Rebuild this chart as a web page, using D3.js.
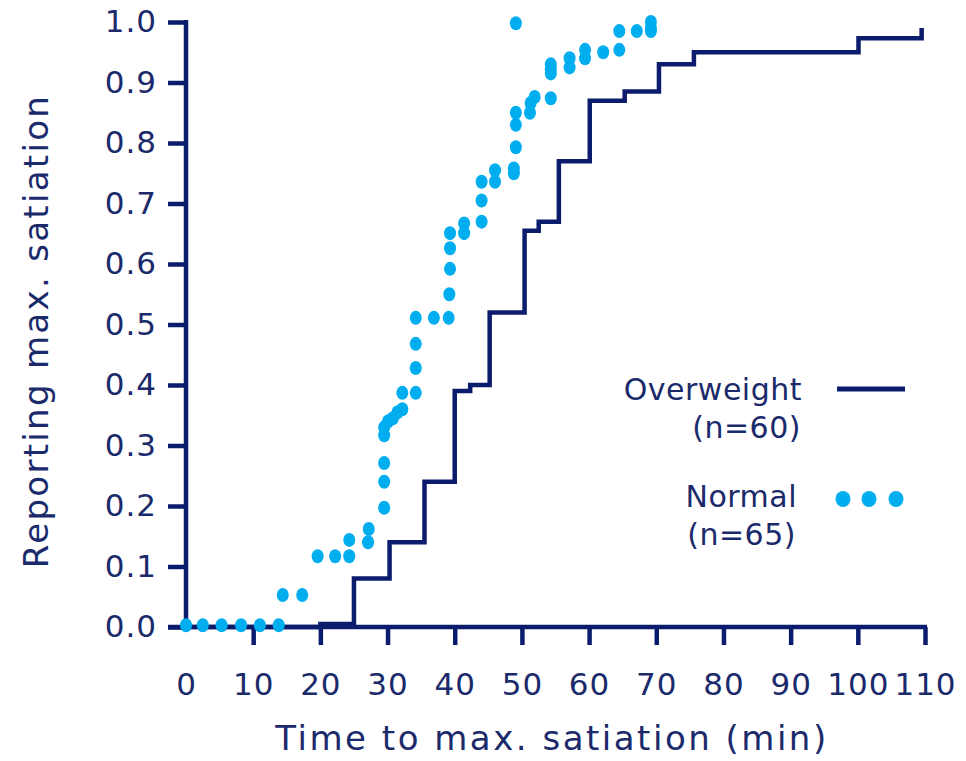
<!DOCTYPE html>
<html>
<head>
<meta charset="utf-8">
<script src="https://cdn.jsdelivr.net/npm/d3@7"></script>
<style>
	body { margin: 0; background: #fff; }
	text { font-family: "DejaVu Sans", Verdana, sans-serif; fill: #1b2a6b; }
</style>
</head>
<body>
<script>
(function () {
	"use strict";

	var w = 966;
	var h = 761;

	// overweight (n=60): step curve
	var owTime = [0, 20, 25, 30.3, 35.5, 40, 42.3, 45.2, 50.4, 52.5, 55.5, 60.1, 65.3, 70.4, 75.6, 100.1, 109.5];
	var owProp = [0, 0.005, 0.08, 0.14, 0.24, 0.39, 0.40, 0.52, 0.655, 0.67, 0.77, 0.87, 0.885, 0.93, 0.95, 0.973, 0.99];

	// normal (n=65): dots
	var nmTime = [0, 2.5, 5.3, 8.2, 11, 13.8, 14.4, 17.3, 19.6, 22.2, 24.3, 24.3, 27.1, 27.2,
		29.5, 29.5, 29.5, 29.5, 29.5, 30.1, 30.8, 31.5, 32.2, 32.2, 34.2, 34.2, 34.2, 34.2, 36.9,
		39.1, 39.2, 39.3, 39.3, 39.3, 41.4, 41.4, 44, 44, 44, 46, 46, 48.8, 48.8,
		49.1, 49.1, 49.1, 49.1, 51.2, 51.3, 51.9, 54.3, 54.3, 54.3, 54.3, 57.1, 57.1,
		59.4, 59.4, 62.1, 64.5, 64.5, 67.1, 69.2, 69.2, 69.2];
	var nmProp = [0.003, 0.003, 0.003, 0.003, 0.003, 0.003, 0.053, 0.053, 0.117, 0.117, 0.117, 0.144, 0.14, 0.162,
		0.197, 0.24, 0.271, 0.317, 0.33, 0.34, 0.345, 0.355, 0.36, 0.387, 0.387, 0.428, 0.468, 0.511, 0.511,
		0.511, 0.55, 0.592, 0.626, 0.651, 0.651, 0.667, 0.67, 0.705, 0.736, 0.736, 0.755, 0.75, 0.758,
		0.793, 0.83, 0.85, 0.998, 0.85, 0.866, 0.876, 0.874, 0.915, 0.922, 0.93, 0.925, 0.94,
		0.94, 0.954, 0.95, 0.954, 0.985, 0.985, 0.985, 0.99, 1.0];

	var xTicks = [0, 10, 20, 30, 40, 50, 60, 70, 80, 90, 100, 110];
	var yTicks = [0, 0.1, 0.2, 0.3, 0.4, 0.5, 0.6, 0.7, 0.8, 0.9, 1.0];

	var navy = "#0b1c6c";
	var light = "#00aeef";

	var xScale = d3.scaleLinear().domain([0, 110]).range([186, 925]);
	var yScale = d3.scaleLinear().domain([0, 1]).range([627, 22]);

	var svg = d3.select("body").append("svg")
		.attr("width", w)
		.attr("height", h);

	// axes
	var xAxis = svg.append("g")
		.attr("transform", "translate(0," + yScale(0) + ")")
		.call(d3.axisBottom(xScale).tickValues(xTicks).tickSize(18).tickPadding(28).tickSizeOuter(0));
	xAxis.select(".domain").remove();
	xAxis.selectAll(".tick line").filter((d) => d === 0).remove();

	var yAxis = svg.append("g")
		.attr("transform", "translate(" + xScale(0) + ",0)")
		.call(d3.axisLeft(yScale).tickValues(yTicks).tickFormat(d3.format(".1f")).tickSize(18).tickPadding(11).tickSizeOuter(0));
	yAxis.select(".domain").remove();

	svg.selectAll(".tick line")
		.attr("stroke", navy)
		.attr("stroke-width", 4.5);
	svg.selectAll(".tick text")
		.attr("font-size", 31)
		.attr("letter-spacing", 1)
		.attr("fill", "#1b2a6b");

	svg.append("line")
		.attr("x1", xScale(0) - 18).attr("x2", xScale(110) + 2)
		.attr("y1", yScale(0)).attr("y2", yScale(0))
		.attr("stroke", navy).attr("stroke-width", 4.5);
	svg.append("line")
		.attr("x1", xScale(0)).attr("x2", xScale(0))
		.attr("y1", yScale(0)).attr("y2", yScale(1) - 2)
		.attr("stroke", navy).attr("stroke-width", 4.5);

	// overweight step line
	var lineFun = d3.line()
		.x((d, i) => xScale(owTime[i]))
		.y((d, i) => yScale(owProp[i]))
		.curve(d3.curveStepAfter);

	svg.append("path")
		.attr("d", lineFun(owTime))
		.attr("fill", "none")
		.attr("stroke", navy)
		.attr("stroke-width", 4.5);

	// normal dots
	svg.append("g").selectAll("ellipse")
		.data(nmTime)
		.enter().append("ellipse")
		.attr("cx", (d) => xScale(d))
		.attr("cy", (d, i) => yScale(nmProp[i]))
		.attr("rx", 6)
		.attr("ry", 7)
		.attr("fill", light);

	// titles
	svg.append("text")
		.attr("x", 552).attr("y", 750)
		.attr("text-anchor", "middle")
		.attr("font-size", 34)
		.attr("letter-spacing", 2.5)
		.text("Time to max. satiation (min)");

	svg.append("text")
		.attr("transform", "translate(48,331) rotate(-90)")
		.attr("text-anchor", "middle")
		.attr("font-size", 34)
		.attr("letter-spacing", 2.3)
		.text("Reporting max. satiation");

	// legend
	var leg = svg.append("g");
	leg.append("text").attr("x", 802).attr("y", 400).attr("text-anchor", "end").attr("font-size", 30).attr("letter-spacing", 0.5).text("Overweight");
	leg.append("text").attr("x", 801).attr("y", 438).attr("text-anchor", "end").attr("font-size", 30).attr("letter-spacing", 0.5).text("(n=60)");
	leg.append("line").attr("x1", 837).attr("x2", 905).attr("y1", 389).attr("y2", 389)
		.attr("stroke", navy).attr("stroke-width", 5);
	leg.append("text").attr("x", 797).attr("y", 507).attr("text-anchor", "end").attr("font-size", 30).attr("letter-spacing", 0.5).text("Normal");
	leg.append("text").attr("x", 796).attr("y", 545).attr("text-anchor", "end").attr("font-size", 30).attr("letter-spacing", 0.5).text("(n=65)");
	leg.selectAll("ellipse")
		.data([843, 869, 896])
		.enter().append("ellipse")
		.attr("cx", (d) => d)
		.attr("cy", 499)
		.attr("rx", 7.5)
		.attr("ry", 8)
		.attr("fill", light);
})();
</script>
</body>
</html>
